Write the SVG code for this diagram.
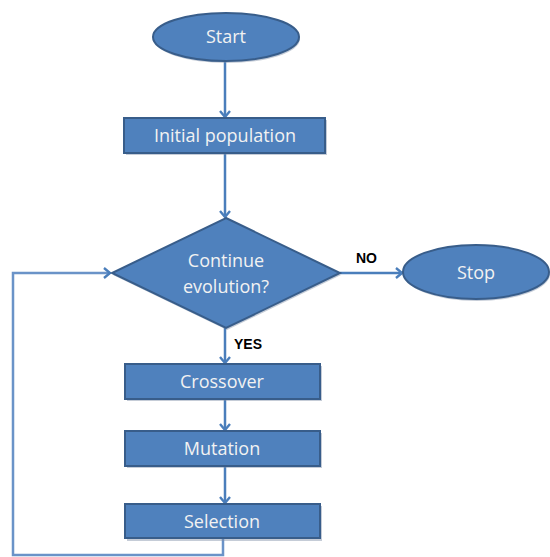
<svg xmlns="http://www.w3.org/2000/svg" width="550" height="557" viewBox="0 0 550 557">
<defs>
<style>
.shape{fill:#4F81BD;stroke:#385D8A;stroke-width:2}
.shadow{fill:#7f8fa6;opacity:0.45}
.lbl{font-family:"Open Sans","Liberation Sans",sans-serif;font-size:18px;fill:#F2F2F2;text-anchor:middle}
.edge{font-family:"Liberation Sans",Arial,sans-serif;font-size:14px;font-weight:bold;fill:#000}
.conn{fill:none;stroke:#4A7EBB;stroke-width:2.5}
.loop{fill:none;stroke:#6A93C8;stroke-width:2.5}
</style>
<marker id="arr" viewBox="0 0 8 12" refX="7" refY="6" markerWidth="8" markerHeight="12" markerUnits="userSpaceOnUse" orient="auto">
<path d="M1,1 L7,6 L1,11" fill="none" stroke="#4A7EBB" stroke-width="2.4"/>
</marker>
</defs>
<rect width="550" height="557" fill="#FFFFFF"/>
<g id="connectors">
<line class="conn" x1="225" y1="61" x2="225" y2="117" marker-end="url(#arr)"/>
<line class="conn" x1="225" y1="154" x2="225" y2="217" marker-end="url(#arr)"/>
<line class="conn" x1="340" y1="273" x2="402" y2="273" marker-end="url(#arr)"/>
<line class="conn" x1="225" y1="328" x2="225" y2="363" marker-end="url(#arr)"/>
<line class="conn" x1="225" y1="399" x2="225" y2="430" marker-end="url(#arr)"/>
<line class="conn" x1="225" y1="467" x2="225" y2="503" marker-end="url(#arr)"/>
<polyline class="loop" points="223,539 223,555 13,555 13,273 110,273" marker-end="url(#arr)"/>
<text class="edge" x="356" y="263">NO</text>
<text class="edge" x="234" y="349">YES</text>
</g>
<g id="start">
<ellipse class="shadow" cx="227" cy="39" rx="73" ry="24"/>
<ellipse class="shape" cx="226" cy="37" rx="73" ry="24"/>
<text class="lbl" x="226" y="43">Start</text>
</g>
<g id="init">
<rect class="shadow" x="126" y="120" width="201" height="35"/>
<rect class="shape" x="124" y="118" width="201" height="35"/>
<text class="lbl" x="225" y="142">Initial population</text>
</g>
<g id="decision">
<polygon class="shadow" points="227,220 341,275 227,330 113,275"/>
<polygon class="shape" points="226,218 340,273 226,328 112,273"/>
<text class="lbl" x="226" y="267">Continue</text>
<text class="lbl" x="226" y="293">evolution?</text>
</g>
<g id="stop">
<ellipse class="shadow" cx="477" cy="274" rx="73" ry="27"/>
<ellipse class="shape" cx="476" cy="272" rx="73" ry="27"/>
<text class="lbl" x="476" y="279">Stop</text>
</g>
<g id="crossover">
<rect class="shadow" x="127" y="366" width="195" height="35"/>
<rect class="shape" x="125" y="364" width="195" height="35"/>
<text class="lbl" x="222" y="388">Crossover</text>
</g>
<g id="mutation">
<rect class="shadow" x="127" y="433" width="195" height="35"/>
<rect class="shape" x="125" y="431" width="195" height="35"/>
<text class="lbl" x="222" y="455">Mutation</text>
</g>
<g id="selection">
<rect class="shadow" x="127" y="506" width="195" height="35"/>
<rect class="shape" x="125" y="504" width="195" height="34"/>
<text class="lbl" x="222" y="528">Selection</text>
</g>
</svg>
